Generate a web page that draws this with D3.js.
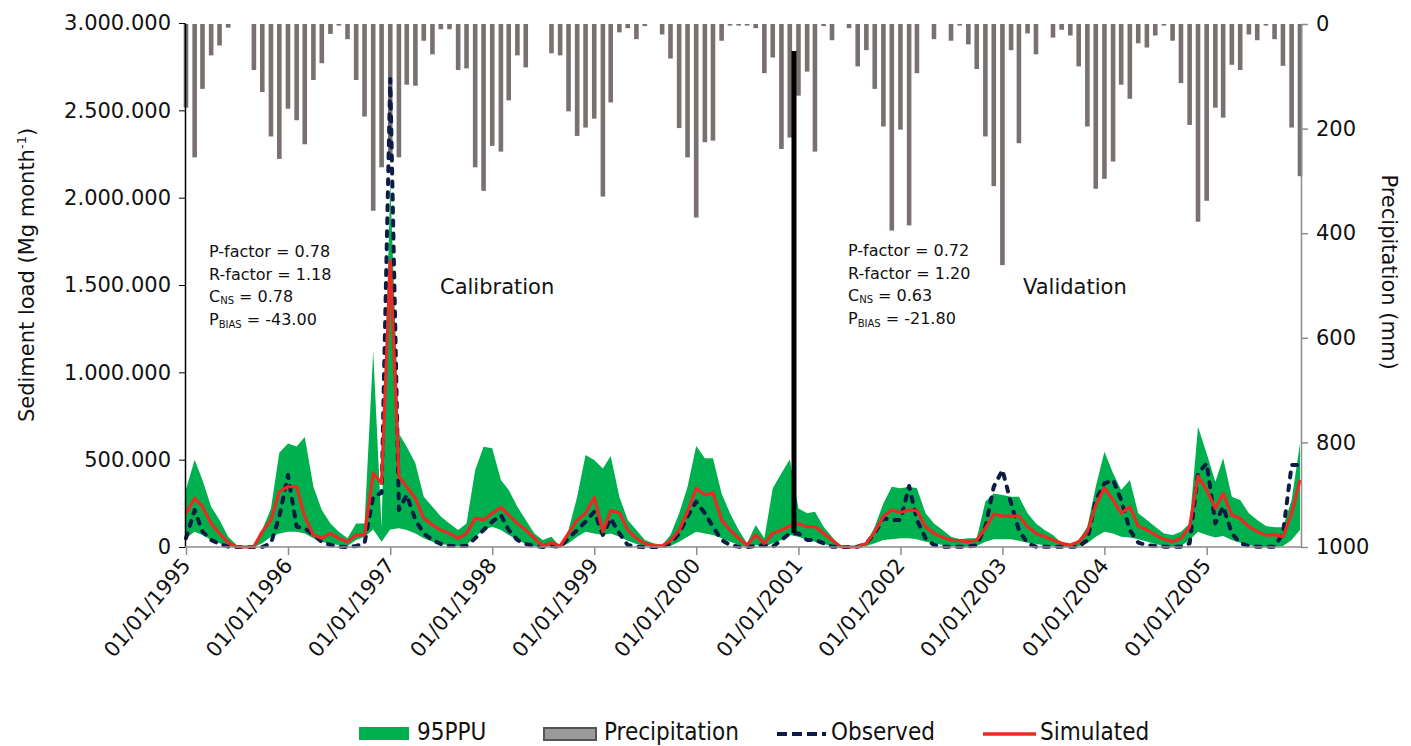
<!DOCTYPE html>
<html>
<head>
<meta charset="utf-8">
<script src="https://cdn.jsdelivr.net/npm/d3@7"></script>
<style>
  body { margin: 0; background: #fff; }
  svg { display: block; font-family: "DejaVu Sans", sans-serif; }
</style>
</head>
<body>
<div id="chart"></div>
<script>
// monthly precipitation (mm), Jan 1995 .. Dec 2005
const precipitation = [
  160, 255, 124, 60, 41, 7, 0, 0, 88, 130, 215, 258,
  162, 184, 230, 107, 75, 19, 3, 29, 107, 177, 357, 274,
  250, 255, 116, 118, 32, 58, 10, 10, 88, 85, 274, 319,
  233, 244, 146, 60, 83, 0, 0, 56, 60, 167, 214, 198,
  181, 330, 150, 16, 8, 29, 4, 0, 20, 66, 199, 255,
  370, 226, 223, 32, 3, 3, 3, 8, 94, 64, 239, 217,
  137, 91, 244, 4, 31, 0, 8, 81, 50, 124, 196, 395,
  202, 385, 94, 0, 29, 0, 32, 3, 39, 86, 215, 310,
  461, 50, 228, 18, 58, 0, 26, 11, 22, 81, 196, 315,
  296, 263, 116, 143, 37, 45, 22, 3, 32, 113, 193, 378,
  338, 160, 179, 78, 88, 20, 31, 3, 29, 80, 198, 291
];

// sediment load (Mg month-1)
const observed = [
  50000, 212000, 88000, 40000, 17000, 2000, 0, 0, 0, 0, 21000, 174000,
  412000, 116000, 107000, 69000, 30000, 11000, 2000, 0, 6000, 21000, 290000, 310000,
  2680000, 212000, 298000, 155000, 78000, 40000, 17000, 6000, 6000, 6000, 50000, 97000,
  145000, 183000, 97000, 40000, 17000, 6000, 0, 6000, 0, 50000, 97000, 145000,
  202000, 69000, 164000, 78000, 11000, 2000, 0, 0, 2000, 21000, 78000, 174000,
  260000, 193000, 116000, 40000, 11000, 2000, 0, 6000, 11000, 2000, 40000, 78000,
  78000, 40000, 40000, 21000, 2000, 0, 0, 2000, 21000, 78000, 164000, 155000,
  155000, 349000, 155000, 50000, 11000, 2000, 2000, 2000, 2000, 11000, 116000, 345000,
  441000, 250000, 97000, 21000, 2000, 2000, 2000, 2000, 2000, 2000, 40000, 269000,
  364000, 384000, 269000, 97000, 25000, 11000, 6000, 2000, 2000, 2000, 21000, 422000,
  479000, 135000, 231000, 78000, 21000, 6000, 2000, 2000, 2000, 78000, 469000, 469000
];

const simulated = [
  193000, 279000, 231000, 135000, 78000, 25000, 2000, 0, 2000, 88000, 155000, 317000,
  345000, 345000, 174000, 69000, 50000, 78000, 50000, 30000, 69000, 69000, 422000, 364000,
  1640000, 403000, 345000, 279000, 164000, 126000, 97000, 78000, 50000, 78000, 164000, 155000,
  193000, 227000, 183000, 135000, 97000, 50000, 6000, 25000, 6000, 78000, 155000, 193000,
  284000, 88000, 208000, 197000, 97000, 50000, 21000, 6000, 6000, 36000, 97000, 202000,
  336000, 298000, 311000, 155000, 97000, 50000, 11000, 69000, 21000, 78000, 97000, 120000,
  135000, 116000, 116000, 78000, 40000, 2000, 0, 0, 21000, 88000, 174000, 212000,
  197000, 212000, 208000, 116000, 78000, 55000, 40000, 36000, 30000, 40000, 107000, 189000,
  177000, 177000, 177000, 116000, 78000, 59000, 40000, 21000, 11000, 30000, 88000, 240000,
  336000, 269000, 193000, 231000, 120000, 97000, 69000, 44000, 31000, 50000, 116000, 406000,
  326000, 221000, 307000, 183000, 164000, 116000, 88000, 69000, 69000, 59000, 193000, 384000
];

// 95PPU band
const ppuUpper = [
  330000, 500000, 383000, 231000, 155000, 59000, 11000, 0, 0, 100000, 221000, 540000,
  593000, 575000, 630000, 345000, 212000, 135000, 88000, 50000, 135000, 135000, 1120000, 110000,
  2100000, 650000, 574000, 479000, 288000, 231000, 174000, 135000, 97000, 135000, 441000, 574000,
  565000, 383000, 326000, 231000, 155000, 78000, 40000, 59000, 2000, 97000, 288000, 527000,
  498000, 450000, 521000, 288000, 155000, 97000, 40000, 21000, 11000, 69000, 193000, 345000,
  578000, 508000, 508000, 307000, 193000, 97000, 21000, 126000, 50000, 336000, 422000, 502000,
  221000, 193000, 202000, 116000, 59000, 2000, 0, 0, 21000, 116000, 250000, 345000,
  336000, 345000, 336000, 193000, 135000, 97000, 59000, 44000, 50000, 50000, 260000, 307000,
  298000, 288000, 288000, 193000, 135000, 97000, 69000, 21000, 11000, 40000, 116000, 345000,
  546000, 422000, 326000, 384000, 193000, 155000, 116000, 78000, 69000, 88000, 135000, 689000,
  536000, 374000, 508000, 288000, 269000, 193000, 155000, 120000, 113000, 113000, 269000, 593000
];

const ppuLower = [
  50000, 88000, 69000, 40000, 21000, 6000, 0, 0, 0, 21000, 59000, 78000,
  88000, 88000, 78000, 50000, 30000, 17000, 11000, 6000, 40000, 59000, 100000, 30000,
  100000, 107000, 97000, 78000, 50000, 30000, 17000, 10000, 6000, 11000, 59000, 97000,
  116000, 97000, 69000, 40000, 17000, 6000, 0, 6000, 0, 21000, 59000, 88000,
  78000, 69000, 78000, 59000, 36000, 17000, 6000, 2000, 0, 6000, 30000, 59000,
  88000, 78000, 69000, 50000, 30000, 11000, 2000, 11000, 2000, 21000, 40000, 69000,
  59000, 40000, 30000, 17000, 6000, 0, 0, 0, 6000, 21000, 40000, 44000,
  50000, 50000, 44000, 30000, 21000, 11000, 6000, 0, 0, 6000, 30000, 44000,
  44000, 44000, 36000, 25000, 17000, 10000, 6000, 0, 0, 6000, 21000, 59000,
  88000, 78000, 59000, 55000, 44000, 31000, 17000, 6000, 2000, 6000, 40000, 88000,
  69000, 55000, 63000, 40000, 25000, 11000, 2000, 0, 0, 6000, 40000, 97000
];

const sedTicks = [0, 500000, 1000000, 1500000, 2000000, 2500000, 3000000];
const pcpTicks = [0, 200, 400, 600, 800, 1000];

const calibStats = ["0.78", "1.18", "0.78", "-43.00"];
const validStats = ["0.72", "1.20", "0.63", "-21.80"];

const W = 1411, H = 746;
const colGreen = "#00b04f", colBar = "#78716f", colObs = "#0c1c45", colSim = "#ec2a22";

const months = d3.timeMonth.range(new Date(1995, 0, 1), new Date(2006, 0, 1));
const data = months.map((d, i) => ({
  date: d, pcp: precipitation[i], obs: observed[i], sim: simulated[i],
  lo: ppuLower[i], hi: ppuUpper[i]
}));

const x = d3.scaleTime()
  .domain([months[0], months[months.length - 1]])
  .range([186, 1300]);
const ySed = d3.scaleLinear().domain([0, 3000000]).range([547, 23]);
const yPcp = d3.scaleLinear().domain([0, 1000]).range([24, 547]);

const svg = d3.select("#chart").append("svg")
  .attr("width", W)
  .attr("height", H);

// precipitation bars hanging from the top
svg.append("g").selectAll("rect")
  .data(data)
  .enter().append("rect")
    .attr("x", d => x(d.date) - 2.3)
    .attr("y", yPcp(0))
    .attr("width", 4.6)
    .attr("height", d => yPcp(d.pcp) - yPcp(0))
    .attr("fill", colBar);

// 95PPU band
const band = d3.area()
  .x(d => x(d.date))
  .y0(d => ySed(d.lo))
  .y1(d => ySed(d.hi));

svg.append("path")
  .datum(data)
  .attr("d", band)
  .attr("fill", colGreen);

const lineObs = d3.line().x(d => x(d.date)).y(d => ySed(d.obs));
const lineSim = d3.line().x(d => x(d.date)).y(d => ySed(d.sim));

svg.append("path")
  .datum(data)
  .attr("d", lineObs)
  .attr("fill", "none")
  .attr("stroke", colObs)
  .attr("stroke-width", 4)
  .attr("stroke-dasharray", "5,8")
  .attr("stroke-linecap", "round")
  .attr("stroke-linejoin", "round");

svg.append("path")
  .datum(data)
  .attr("d", lineSim)
  .attr("fill", "none")
  .attr("stroke", colSim)
  .attr("stroke-width", 3.2)
  .attr("stroke-linejoin", "round");

// calibration / validation split
svg.append("line")
  .attr("x1", x(new Date(2000, 11, 16)))
  .attr("x2", x(new Date(2000, 11, 16)))
  .attr("y1", ySed(2840000))
  .attr("y2", ySed(80000))
  .attr("stroke", "#000")
  .attr("stroke-width", 5);

// axes
const fmt = d3.formatLocale({decimal: ",", thousands: ".", grouping: [3], currency: ["", ""]}).format(",");

const gLeft = svg.append("g")
  .attr("transform", "translate(185,0)")
  .call(d3.axisLeft(ySed).tickValues(sedTicks).tickFormat(fmt).tickSize(6).tickSizeOuter(0).tickPadding(8));
gLeft.select(".domain").attr("stroke", "#000").attr("stroke-width", 1.5);
gLeft.selectAll(".tick line").attr("stroke", "#000");
gLeft.selectAll("text").attr("font-size", 21).attr("font-family", "DejaVu Sans").attr("fill", "#111");

const gRight = svg.append("g")
  .attr("transform", "translate(1301,0)")
  .call(d3.axisRight(yPcp).tickValues(pcpTicks).tickFormat(d3.format("d")).tickSize(7).tickSizeOuter(0).tickPadding(8));
gRight.select(".domain").attr("stroke", "#8c8c8c").attr("stroke-width", 1.5);
gRight.selectAll(".tick line").attr("stroke", "#8c8c8c").attr("stroke-width", 1.5);
gRight.selectAll("text").attr("font-size", 21).attr("font-family", "DejaVu Sans").attr("fill", "#111");

const gBottom = svg.append("g")
  .attr("transform", "translate(0,547)")
  .call(d3.axisBottom(x).ticks(d3.timeYear.every(1)).tickFormat(d3.timeFormat("%d/%m/%Y")).tickSize(8).tickSizeOuter(0));
gBottom.select(".domain").attr("stroke", "#8c8c8c").attr("stroke-width", 1.5)
  .attr("d", "M185,0H1301");
gBottom.selectAll(".tick line").attr("stroke", "#8c8c8c").attr("stroke-width", 1.5);
gBottom.selectAll("text")
  .attr("font-size", 21).attr("font-family", "DejaVu Sans").attr("fill", "#111")
  .style("text-anchor", "end")
  .attr("x", 0).attr("y", 0).attr("dy", 0)
  .attr("transform", "translate(5,19) rotate(-50)");

// axis titles
const tl = svg.append("text")
  .attr("transform", "translate(34,275) rotate(-90)")
  .attr("text-anchor", "middle")
  .attr("font-size", 21)
  .attr("fill", "#111");
tl.append("tspan").text("Sediment load (Mg month");
tl.append("tspan").attr("font-size", 13).attr("dy", -8).text("-1");
tl.append("tspan").attr("dy", 8).text(")");

svg.append("text")
  .attr("transform", "translate(1382,272) rotate(90)")
  .attr("text-anchor", "middle")
  .attr("font-size", 21)
  .attr("fill", "#111")
  .text("Precipitation (mm)");

// statistics blocks
function statBlock(x0, y0, vals) {
  const g = svg.append("g").attr("font-size", 16).attr("fill", "#111");
  g.append("text").attr("x", x0).attr("y", y0).text("P-factor = " + vals[0]);
  g.append("text").attr("x", x0).attr("y", y0 + 23).text("R-factor = " + vals[1]);
  const c = g.append("text").attr("x", x0).attr("y", y0 + 45);
  c.append("tspan").text("C");
  c.append("tspan").attr("font-size", 10).attr("dy", 2).text("NS");
  c.append("tspan").attr("dy", -2).text(" = " + vals[2]);
  const p = g.append("text").attr("x", x0).attr("y", y0 + 68);
  p.append("tspan").text("P");
  p.append("tspan").attr("font-size", 10).attr("dy", 3).text("BIAS");
  p.append("tspan").attr("dy", -3).text(" = " + vals[3]);
}
statBlock(209, 257, calibStats);
statBlock(848, 256, validStats);

svg.append("text").attr("x", 440).attr("y", 294).attr("font-size", 21).attr("fill", "#111").text("Calibration");
svg.append("text").attr("x", 1023).attr("y", 294).attr("font-size", 21).attr("fill", "#111").text("Validation");

// legend
const lg = svg.append("g").attr("font-family", "DejaVu Sans Condensed").attr("font-size", 24).attr("fill", "#111");
lg.append("rect").attr("x", 359).attr("y", 727).attr("width", 50).attr("height", 13).attr("fill", colGreen);
lg.append("text").attr("x", 417).attr("y", 740).text("95PPU");
lg.append("rect").attr("x", 544).attr("y", 728).attr("width", 52).attr("height", 12)
  .attr("fill", "#9a9a9a").attr("stroke", "#555").attr("stroke-width", 2);
lg.append("text").attr("x", 604).attr("y", 740).text("Precipitation");
lg.append("line").attr("x1", 777).attr("x2", 826).attr("y1", 734).attr("y2", 734)
  .attr("stroke", colObs).attr("stroke-width", 4).attr("stroke-dasharray", "10,5");
lg.append("text").attr("x", 831).attr("y", 740).text("Observed");
lg.append("line").attr("x1", 983).attr("x2", 1036).attr("y1", 734).attr("y2", 734)
  .attr("stroke", colSim).attr("stroke-width", 3.5);
lg.append("text").attr("x", 1040).attr("y", 740).text("Simulated");
</script>
</body>
</html>
